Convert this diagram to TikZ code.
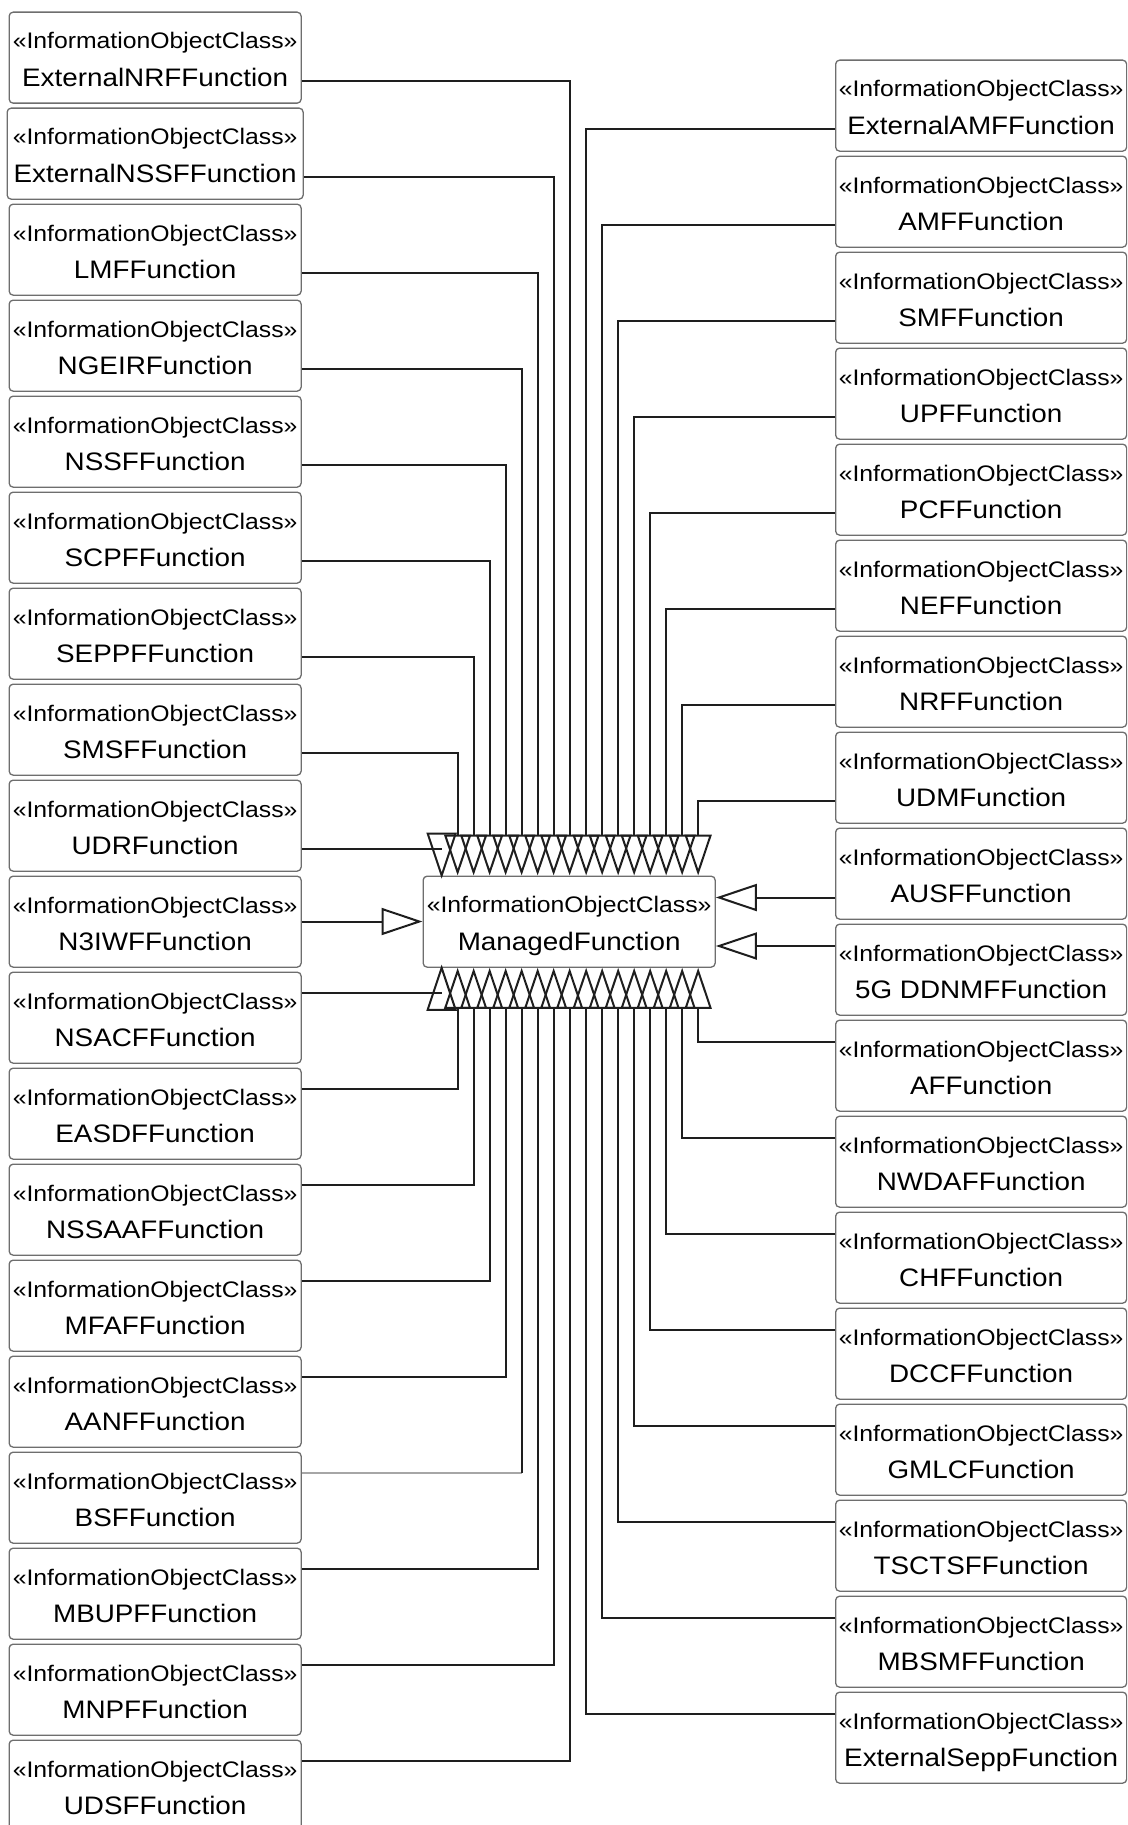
\documentclass[tikz,border=0pt]{standalone}
\usepackage{fontspec}
\setmainfont{Liberation Sans}
\newfontfamily\boxfont[FakeStretch=1.1]{Liberation Sans}
\usetikzlibrary{arrows.meta}
\definecolor{boxgray}{HTML}{6E6E6E}
\definecolor{linecol}{HTML}{1E1E1E}
\tikzset{
  ioc/.style={draw=boxgray, fill=white, line width=1.3pt, rounded corners=4pt,
    minimum height=91pt, inner sep=0pt, anchor=north west},
  st/.style={anchor=base, inner sep=0pt, font=\boxfont\fontsize{22.5}{27}\selectfont},
  nm/.style={anchor=base, inner sep=0pt, font=\boxfont\fontsize{25.3}{30}\selectfont},
  gen/.style={draw=linecol, line width=2pt, line join=miter,
    -{Triangle[open, length=41pt, width=27pt]}},
  conn/.style={draw=linecol, line width=2pt},
  tri/.style={draw=linecol, line width=2pt, line join=miter},
}
% #1 name, #2 x-left, #3 width, #4 top, #5 port offset, #6 text, #7 port anchor
\newcommand\iocbox[7]{%
  \node[ioc, minimum width=#3] (#1) at (#2,#4) {};
  \node[st] (#1s) at ([yshift=-37.5pt]#1.north) {«InformationObjectClass»};
  \node[nm] (#1n) at ([yshift=-75pt]#1.north) {#6};
  \coordinate (p#1) at ([yshift=-#5pt]#1.#7);
}
\begin{document}
\begin{tikzpicture}[x=1pt, y=-1pt]
\useasboundingbox (0,0) rectangle (1127,1825);
\fill[white] (0,0) rectangle (1127,1825);
\clip (0,0) rectangle (1127,1825);

% central class
\node[ioc, minimum width=292pt] (MF) at (422.5,875.5) {};
\node[st] (MFs) at ([yshift=-36.5pt]MF.north) {«InformationObjectClass»};
\node[nm] (MFn) at ([yshift=-74.5pt]MF.north) {ManagedFunction};

% left column
\iocbox{L1}{8.5}{292pt}{11.5}{69.5}{ExternalNRFFunction}{north east}
\iocbox{L2}{6.5}{296pt}{107.5}{69.5}{ExternalNSSFFunction}{north east}
\iocbox{L3}{8.5}{292pt}{203.5}{69.5}{LMFFunction}{north east}
\iocbox{L4}{8.5}{292pt}{299.5}{69.5}{NGEIRFunction}{north east}
\iocbox{L5}{8.5}{292pt}{395.5}{69.5}{NSSFFunction}{north east}
\iocbox{L6}{8.5}{292pt}{491.5}{69.5}{SCPFFunction}{north east}
\iocbox{L7}{8.5}{292pt}{587.5}{69.5}{SEPPFFunction}{north east}
\iocbox{L8}{8.5}{292pt}{683.5}{69.5}{SMSFFunction}{north east}
\iocbox{L9}{8.5}{292pt}{779.5}{69.5}{UDRFunction}{north east}
\iocbox{L10}{8.5}{292pt}{875.5}{46}{N3IWFFunction}{north east}
\iocbox{L11}{8.5}{292pt}{971.5}{21.5}{NSACFFunction}{north east}
\iocbox{L12}{8.5}{292pt}{1067.5}{21.5}{EASDFFunction}{north east}
\iocbox{L13}{8.5}{292pt}{1163.5}{21.5}{NSSAAFFunction}{north east}
\iocbox{L14}{8.5}{292pt}{1259.5}{21.5}{MFAFFunction}{north east}
\iocbox{L15}{8.5}{292pt}{1355.5}{21.5}{AANFFunction}{north east}
\iocbox{L16}{8.5}{292pt}{1451.5}{21.5}{BSFFunction}{north east}
\iocbox{L17}{8.5}{292pt}{1547.5}{21.5}{MBUPFFunction}{north east}
\iocbox{L18}{8.5}{292pt}{1643.5}{21.5}{MNPFFunction}{north east}
\iocbox{L19}{8.5}{292pt}{1739.5}{21.5}{UDSFFunction}{north east}

% right column
\iocbox{R1}{835}{291pt}{59.5}{69.5}{ExternalAMFFunction}{north west}
\iocbox{R2}{835}{291pt}{155.5}{69.5}{AMFFunction}{north west}
\iocbox{R3}{835}{291pt}{251.5}{69.5}{SMFFunction}{north west}
\iocbox{R4}{835}{291pt}{347.5}{69.5}{UPFFunction}{north west}
\iocbox{R5}{835}{291pt}{443.5}{69.5}{PCFFunction}{north west}
\iocbox{R6}{835}{291pt}{539.5}{69.5}{NEFFunction}{north west}
\iocbox{R7}{835}{291pt}{635.5}{69.5}{NRFFunction}{north west}
\iocbox{R8}{835}{291pt}{731.5}{69.5}{UDMFunction}{north west}
\iocbox{R9}{835}{291pt}{827.5}{70}{AUSFFunction}{north west}
\iocbox{R10}{835}{291pt}{923.5}{22.5}{5G DDNMFFunction}{north west}
\iocbox{R11}{835}{291pt}{1019.5}{22}{AFFunction}{north west}
\iocbox{R12}{835}{291pt}{1115.5}{22}{NWDAFFunction}{north west}
\iocbox{R13}{835}{291pt}{1211.5}{22}{CHFFunction}{north west}
\iocbox{R14}{835}{291pt}{1307.5}{22}{DCCFFunction}{north west}
\iocbox{R15}{835}{291pt}{1403.5}{22}{GMLCFunction}{north west}
\iocbox{R16}{835}{291pt}{1499.5}{22}{TSCTSFFunction}{north west}
\iocbox{R17}{835}{291pt}{1595.5}{22}{MBSMFFunction}{north west}
\iocbox{R18}{835}{291pt}{1691.5}{22}{ExternalSeppFunction}{north west}

% connectors to the top of ManagedFunction
\foreach \i/\dx in {1/0.5,2/-15.5,3/-31.5,4/-47.5,5/-63.5,6/-79.5,7/-95.5,8/-111.5}
  \draw[gen] (pL\i) -| ([xshift=\dx pt]MF.north);
\foreach \i/\dx in {1/17,2/33,3/49,4/65,5/81,6/97,7/113,8/129}
  \draw[gen] (pR\i) -| ([xshift=\dx pt]MF.north);
% UDRFunction
\coordinate (tU) at ([xshift=-127.5pt]MF.north);
\draw[conn] (pL9) -- (pL9 -| tU);
\draw[tri] (tU) -- ++(-14,-42) -- ++(28,0) -- cycle;

% side connectors
\draw[gen] (pL10) -- (pL10 -| MF.west);
\draw[gen] (pR9) -- (pR9 -| MF.east);
\draw[gen] (pR10) -- (pR10 -| MF.east);

% connectors to the bottom of ManagedFunction
\coordinate (tN) at ([xshift=-127.5pt]MF.south);
\draw[conn] (pL11) -- (pL11 -| tN);
\draw[tri] (tN) -- ++(-14,42) -- ++(28,0) -- cycle;
\foreach \i/\dx in {12/-111.5,13/-95.5,14/-79.5,15/-63.5,17/-31.5,18/-15.5,19/0.5}
  \draw[gen] (pL\i) -| ([xshift=\dx pt]MF.south);
\coordinate (tB) at ([xshift=-47.5pt]MF.south);
\draw[draw=gray!70, line width=1.3pt] (pL16) -- (pL16 -| tB);
\draw[gen] (pL16 -| tB) -- (tB);
\foreach \i/\dx in {11/129,12/113,13/97,14/81,15/65,16/49,17/33,18/17}
  \draw[gen] (pR\i) -| ([xshift=\dx pt]MF.south);
\end{tikzpicture}
\end{document}
